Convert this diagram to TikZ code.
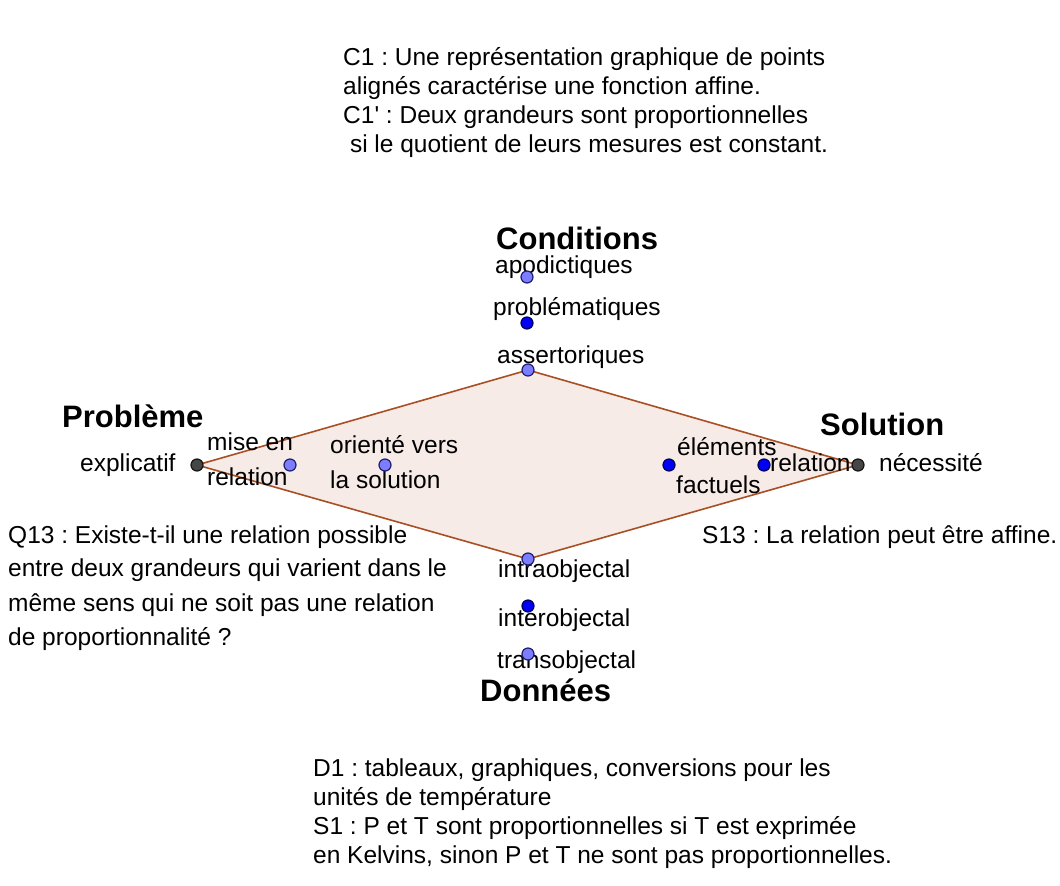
\documentclass[tikz,border=0pt]{standalone}
\usepackage{fontspec}
\setmainfont{Liberation Sans}[Ligatures=TeXOff]
\frenchspacing
\definecolor{polyline}{RGB}{170,78,36}
\definecolor{polyfill}{RGB}{246,235,230}
\definecolor{ptlightfill}{RGB}{125,125,255}
\definecolor{ptlightdraw}{RGB}{30,30,110}
\definecolor{ptbluefill}{RGB}{0,0,245}
\definecolor{ptbluedraw}{RGB}{0,0,90}
\definecolor{ptdarkfill}{RGB}{70,70,70}
\definecolor{ptdarkdraw}{RGB}{20,20,20}
\tikzset{
  txt/.style={anchor=base west, inner sep=0pt, font=\fontsize{24.5}{29}\selectfont},
  head/.style={anchor=base west, inner sep=0pt, font=\fontsize{31}{36}\selectfont\bfseries},
  ptlight/.style={circle, inner sep=0pt, minimum size=12pt, fill=ptlightfill, draw=ptlightdraw, line width=1.2pt},
  ptblue/.style={circle, inner sep=0pt, minimum size=12pt, fill=ptbluefill, draw=ptbluedraw, line width=1.2pt},
  ptdark/.style={circle, inner sep=0pt, minimum size=12pt, fill=ptdarkfill, draw=ptdarkdraw, line width=1.2pt},
  poly/.style={draw=polyline, fill=polyfill, line width=1.6pt, line join=miter}
}
\begin{document}
\begin{tikzpicture}[x=1pt,y=-1pt]
\useasboundingbox (0,0) rectangle (1060,886);
% vertex coordinates
\coordinate (vtop) at (528,370);
\coordinate (vleft) at (197,465);
\coordinate (vright) at (858,465);
\coordinate (vbot) at (528,559);
\draw[poly] (vtop) -- (vright) -- (vbot) -- (vleft) -- cycle;

% top text block
\node[txt] (c1a) at (343,65) {C1 : Une représentation graphique de points};
\node[txt] (c1b) at (343,94) {alignés caractérise une fonction affine.};
\node[txt] (c1c) at (343,123) {C1' : Deux grandeurs sont proportionnelles};
\node[txt] (c1d) at (343,152) {\ si le quotient de leurs mesures est constant.};

% Conditions
\node[head] (cond) at (496,249) {Conditions};
\node[txt] (apod) at (495,273) {apodictiques};
\node[txt] (prob) at (493,315) {problématiques};
\node[txt] (asse) at (497,363) {assertoriques};

% Problème
\node[head] (probl) at (62,427) {Problème};
\node[txt] (expl) at (80,471) {explicatif};
\node[txt] (mise) at (207,450) {mise en};
\node[txt] (rel1) at (207,485) {relation};
\node[txt] (orie) at (330,453) {orienté vers};
\node[txt] (laso) at (330,488) {la solution};

% Solution
\node[head] (solu) at (820,435) {Solution};
\node[txt] (elem) at (677,455) {éléments};
\node[txt] (fact) at (676,493) {factuels};
\node[txt] (rel2) at (770,471) {relation};
\node[txt] (nece) at (879,471) {nécessité};

% Q13 / S13
\node[txt] (q1) at (8,543) {Q13 : Existe-t-il une relation possible};
\node[txt] (q2) at (8,576) {entre deux grandeurs qui varient dans le};
\node[txt] (q3) at (8,611) {même sens qui ne soit pas une relation};
\node[txt] (q4) at (8,645) {de proportionnalité ?};
\node[txt] (s13) at (702,543) {S13 : La relation peut être affine.};

% Données
\node[txt] (intra) at (498,577) {intraobjectal};
\node[txt] (inter) at (498,626) {interobjectal};
\node[txt] (trans) at (497,668) {transobjectal};
\node[head] (donn) at (480,701) {Données};

% bottom block
\node[txt] (d1a) at (313,776) {D1 : tableaux, graphiques, conversions pour les};
\node[txt] (d1b) at (313,805) {unités de température};
\node[txt] (d1c) at (313,834) {S1 : P et T sont proportionnelles si T est exprimée};
\node[txt] (d1d) at (313,863) {en Kelvins, sinon P et T ne sont pas proportionnelles.};

% points
\node[ptlight] (papod) at (527,277) {};
\node[ptblue] (pprob) at (527,323) {};
\node[ptlight] (passe) at (vtop) {};
\node[ptdark] (pexpl) at (vleft) {};
\node[ptlight] (pmise) at (290,465) {};
\node[ptlight] (porie) at (385,465) {};
\node[ptblue] (pelem) at (669,465) {};
\node[ptblue] (prel) at (764,465) {};
\node[ptdark] (pnece) at (vright) {};
\node[ptlight] (pintra) at (vbot) {};
\node[ptblue] (pinter) at (528,606) {};
\node[ptlight] (ptrans) at (528,654) {};
\end{tikzpicture}
\end{document}
